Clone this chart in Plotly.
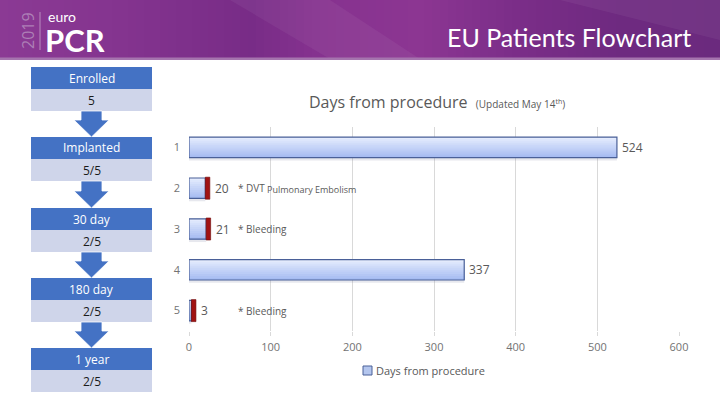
import plotly.graph_objects as go

# ---------------- data ----------------
categories = ["1", "2", "3", "4", "5"]
days = [524, 20, 21, 337, 3]
event_notes = ["", "* DVT", "* Bleeding", "", "* Bleeding"]
event_subnotes = ["", "Pulmonary Embolism", "", "", ""]
series_name = "Days from procedure"
x_ticks = [0, 100, 200, 300, 400, 500, 600]

stages = ["Enrolled", "Implanted", "30 day", "180 day", "1 year"]
stage_counts = ["5", "5/5", "2/5", "2/5", "2/5"]

header_title = "EU Patients Flowchart"
chart_title = "Days from procedure"
chart_subtitle = "(Updated May 14<sup>th</sup>)"

# ---------------- helpers ----------------
W, H = 720, 405


def X(px):
    return px / W


def Y(py):
    return 1 - py / H


def hex2rgb(h):
    h = h.lstrip("#")
    return tuple(int(h[i:i + 2], 16) for i in (0, 2, 4))


def mix(c1, c2, t):
    a, b = hex2rgb(c1), hex2rgb(c2)
    return "rgb(%d,%d,%d)" % tuple(round(a[i] + (b[i] - a[i]) * t) for i in range(3))


fig = go.Figure()

BAR_W = 0.5
TOP_C, BOT_C = "#e4ebfd", "#a6bcf2"
EDGE = "#4a6098"
RED_W = 5.5

# legend-colour base layer
fig.add_trace(go.Bar(
    y=categories, x=days, orientation="h", width=BAR_W,
    marker=dict(color="#b9c9f0", line=dict(width=0)),
    showlegend=False, hoverinfo="skip"))
# soft shadow under bars
fig.add_trace(go.Bar(
    y=categories, x=days, orientation="h", width=0.07, offset=BAR_W / 2,
    marker=dict(color="rgba(120,130,160,0.18)", line=dict(width=0)),
    showlegend=False, hoverinfo="skip"))
# gradient layers (light top -> darker bottom)
N = 10
for k in range(N):
    f = (N - k) / N
    fig.add_trace(go.Bar(
        y=categories, x=days, orientation="h",
        width=BAR_W * f, offset=BAR_W / 2 - BAR_W * f,
        marker=dict(color=mix(TOP_C, BOT_C, k / (N - 1)), line=dict(width=0)),
        showlegend=False, hoverinfo="skip"))
# outline
fig.add_trace(go.Bar(
    y=categories, x=days, orientation="h", width=BAR_W, name=series_name,
    marker=dict(color="rgba(0,0,0,0)", line=dict(color=EDGE, width=1.2)),
    showlegend=False))

# red event markers at end of bars
red_len = [RED_W if n else None for n in event_notes]
fig.add_trace(go.Bar(
    y=categories, x=red_len, base=days, orientation="h", width=0.54,
    marker=dict(color="#a11212", line=dict(color="#6e0909", width=0.6)),
    showlegend=False, hoverinfo="skip"))

annotations = []
shapes = []

# value labels and notes (y given as category index)
for i, (v, note, sub) in enumerate(zip(days, event_notes, event_subnotes)):
    end = v + (RED_W if note else 0)
    annotations.append(dict(x=end, y=i, xref="x", yref="y", text=str(v),
                            xanchor="left", yanchor="middle", xshift=3, showarrow=False,
                            font=dict(size=12, color="#595959", family="Open Sans")))
    if note:
        annotations.append(dict(x=57, y=i, xref="x", yref="y", text=note,
                                xanchor="left", yanchor="middle", showarrow=False,
                                font=dict(size=10, color="#595959", family="Open Sans")))
    if sub:
        annotations.append(dict(x=93.5, y=i, xref="x", yref="y", text=sub,
                                xanchor="left", yanchor="middle", showarrow=False, yshift=-1,
                                font=dict(size=9, color="#595959", family="Open Sans")))

# chart title
annotations.append(dict(x=X(307), y=Y(102), xref="paper", yref="paper",
                        text=chart_title + "  <span style='font-size:10px'>" + chart_subtitle + "</span>",
                        xanchor="left", yanchor="middle", showarrow=False,
                        font=dict(size=16, color="#595959", family="Open Sans")))

# legend (manual)
shapes.append(dict(type="rect", xref="paper", yref="paper", x0=X(363), x1=X(372),
                   y0=Y(375), y1=Y(366), fillcolor="#b4c6ee", line=dict(color=EDGE, width=1)))
annotations.append(dict(x=X(374), y=Y(370.5), xref="paper", yref="paper", text=series_name,
                        xanchor="left", yanchor="middle", showarrow=False,
                        font=dict(size=11, color="#595959", family="Open Sans")))

# ---------------- header band ----------------
stops = [(0, "#8b3a94"), (120, "#84348f"), (250, "#782c87"), (320, "#86328f"),
         (420, "#8c3692"), (520, "#7a2d88"), (620, "#6e2a80"), (720, "#6b2a7e")]
step = 8
for x0 in range(0, W, step):
    xc = x0 + step / 2
    for (a, ca), (b, cb) in zip(stops[:-1], stops[1:]):
        if a <= xc <= b:
            col = mix(ca, cb, (xc - a) / (b - a))
            break
    shapes.append(dict(type="rect", xref="paper", yref="paper", x0=X(x0), x1=X(x0 + step + 0.5),
                       y0=Y(59), y1=Y(0), fillcolor=col, line=dict(width=0), layer="below"))
# subtle light streaks
shapes.append(dict(type="path", xref="paper", yref="paper",
                   path="M %f,%f L %f,%f L %f,%f L %f,%f Z" % (X(230), Y(0), X(330), Y(0), X(420), Y(59), X(330), Y(59)),
                   fillcolor="rgba(255,255,255,0.05)", line=dict(width=0)))
shapes.append(dict(type="path", xref="paper", yref="paper",
                   path="M %f,%f L %f,%f L %f,%f Z" % (X(560), Y(0), X(720), Y(0), X(720), Y(40)),
                   fillcolor="rgba(255,255,255,0.05)", line=dict(width=0)))
shapes.append(dict(type="rect", xref="paper", yref="paper", x0=0, x1=1, y0=Y(60), y1=Y(57.5),
                   fillcolor="#a574ae", line=dict(width=0)))

# logo
annotations.append(dict(x=X(28), y=Y(31), xref="paper", yref="paper", text="2019", textangle=-90,
                        showarrow=False, xanchor="center", yanchor="middle",
                        font=dict(size=16, color="#ad7fb6", family="Open Sans")))
shapes.append(dict(type="line", xref="paper", yref="paper", x0=X(40), x1=X(40), y0=Y(50), y1=Y(12),
                   line=dict(color="#b88cbf", width=1)))
annotations.append(dict(x=X(46), y=Y(16.5), xref="paper", yref="paper", text="euro",
                        showarrow=False, xanchor="left", yanchor="middle",
                        font=dict(size=14, color="white", family="Lato")))
annotations.append(dict(x=X(43), y=Y(39.5), xref="paper", yref="paper", text="<b>PCR</b>",
                        showarrow=False, xanchor="left", yanchor="middle", height=26,
                        font=dict(size=31, color="white", family="Lato")))

annotations.append(dict(x=X(693), y=Y(37), xref="paper", yref="paper", text=header_title,
                        showarrow=False, xanchor="right", yanchor="middle",
                        font=dict(size=25, color="white", family="Lato")))

# ---------------- flowchart ----------------
DARK, LIGHT, ARROW = "#4472c4", "#cfd5ea", "#4472c4"
box_tops = [67, 137, 208, 278, 348]
BX0, BX1 = 31, 152
DH, LH = 22, 22
for i, (st, cnt, top) in enumerate(zip(stages, stage_counts, box_tops)):
    shapes.append(dict(type="rect", xref="paper", yref="paper", x0=X(BX0), x1=X(BX1),
                       y0=Y(top + DH), y1=Y(top), fillcolor=DARK, line=dict(width=0)))
    shapes.append(dict(type="rect", xref="paper", yref="paper", x0=X(BX0), x1=X(BX1),
                       y0=Y(top + DH + LH), y1=Y(top + DH), fillcolor=LIGHT, line=dict(width=0)))
    annotations.append(dict(x=X((BX0 + BX1) / 2), y=Y(top + DH / 2), xref="paper", yref="paper",
                            text=st, showarrow=False, xanchor="center", yanchor="middle",
                            font=dict(size=12, color="white", family="Open Sans")))
    annotations.append(dict(x=X((BX0 + BX1) / 2), y=Y(top + DH + LH / 2), xref="paper", yref="paper",
                            text=cnt, showarrow=False, xanchor="center", yanchor="middle",
                            font=dict(size=12, color="#1a1a1a", family="Open Sans")))
    if i + 1 < len(box_tops):
        s0 = top + DH + LH
        tip = box_tops[i + 1]
        hb = tip - 17
        cx = 91.5
        path = ("M %f,%f L %f,%f L %f,%f L %f,%f L %f,%f L %f,%f L %f,%f Z" % (
            X(cx - 10.5), Y(s0), X(cx + 10.5), Y(s0), X(cx + 10.5), Y(hb), X(cx + 17.5), Y(hb),
            X(cx), Y(tip), X(cx - 17.5), Y(hb), X(cx - 10.5), Y(hb)))
        shapes.append(dict(type="path", xref="paper", yref="paper", path=path,
                           fillcolor=ARROW, line=dict(color="white", width=0.8)))

fig.update_layout(
    template="plotly_white",
    width=W, height=H, autosize=False, margin=dict(l=0, r=0, t=0, b=0, pad=0),
    paper_bgcolor="white", plot_bgcolor="white",
    barmode="overlay", showlegend=False,
    font=dict(family="Open Sans", color="#595959"),
    xaxis=dict(domain=[X(189), X(679)], range=[0, 600], tickvals=x_ticks, automargin=False,
               showgrid=True, gridcolor="#d9d9d9", gridwidth=1, zeroline=False, showline=False,
               ticks="outside", ticklen=4, tickcolor="#d9d9d9", ticklabelstandoff=2,
               tickfont=dict(size=11, color="#737373")),
    yaxis=dict(domain=[Y(331), Y(127)], type="category", categoryorder="array", automargin=False,
               categoryarray=categories, range=[4.5, -0.5], showgrid=False, zeroline=False,
               showline=False, ticks="", ticklabelstandoff=8,
               tickfont=dict(size=11, color="#737373")),
    shapes=shapes, annotations=annotations,
)

fig.write_html("out.html", config={"responsive": False, "displayModeBar": False})
